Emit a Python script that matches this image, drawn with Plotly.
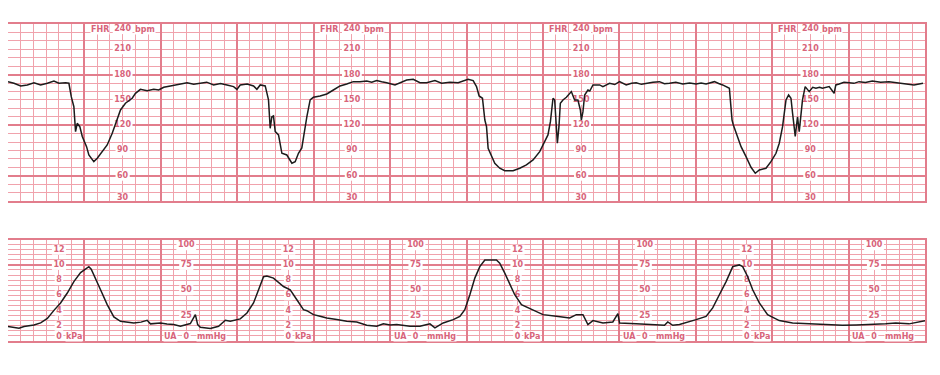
import plotly.graph_objects as go

# ---------------- data (time in minutes) ----------------
fhr_t = [0.0, 0.078, 0.166, 0.253, 0.340, 0.427, 0.515, 0.601, 0.666, 0.754, 0.797,
         0.828, 0.862, 0.884, 0.906, 0.940, 0.972, 1.028, 1.058, 1.123, 1.168, 1.233,
         1.298, 1.364, 1.407, 1.472, 1.537, 1.625, 1.668, 1.733, 1.821, 1.907, 1.972,
         2.038, 2.125, 2.256, 2.343, 2.430, 2.517, 2.600, 2.691, 2.780, 2.866, 2.952,
         2.996, 3.039, 3.130, 3.213, 3.257, 3.301, 3.366, 3.409, 3.431, 3.453, 3.474,
         3.497, 3.540, 3.584, 3.649, 3.715, 3.758, 3.801, 3.845, 3.866, 3.911, 3.954,
         3.997, 4.084, 4.172, 4.258, 4.345, 4.433, 4.519, 4.607, 4.694, 4.760, 4.825,
         4.890, 4.956, 5.064, 5.129, 5.217, 5.303, 5.391, 5.478, 5.587, 5.674, 5.782,
         5.891, 5.956, 6.021, 6.087, 6.131, 6.165, 6.209, 6.240, 6.262, 6.283, 6.327,
         6.370, 6.435, 6.501, 6.609, 6.697, 6.784, 6.871, 6.958, 7.023, 7.066, 7.098,
         7.132, 7.154, 7.176, 7.189, 7.210, 7.228, 7.262, 7.307, 7.372, 7.415, 7.458,
         7.490, 7.503, 7.524, 7.546, 7.589, 7.613, 7.655, 7.742, 7.785, 7.872, 7.940,
         8.003, 8.090, 8.160, 8.221, 8.290, 8.352, 8.440, 8.525, 8.590, 8.656, 8.740,
         8.830, 8.920, 9.005, 9.070, 9.135, 9.244, 9.300, 9.352, 9.440, 9.475, 9.492,
         9.548, 9.593, 9.658, 9.723, 9.779, 9.832, 9.919, 9.984, 10.050, 10.093,
         10.136, 10.181, 10.215, 10.246, 10.267, 10.302, 10.332, 10.354, 10.397,
         10.432, 10.485, 10.530, 10.572, 10.620, 10.658, 10.746, 10.811, 10.833,
         10.876, 10.940, 11.007, 11.070, 11.137, 11.220, 11.311, 11.420, 11.529,
         11.620, 11.703, 11.780, 11.856, 11.974]
fhr_bpm = [171.6, 169.7, 166.5, 167.7, 170.4, 167.7, 169.7, 172.4, 169.7, 170.4, 169.7,
           153.8, 141.9, 112.3, 122.2, 118.2, 106.6, 94.5, 84.6, 76.7, 80.7, 88.5,
           96.5, 110.4, 122.2, 138.0, 146.0, 151.9, 157.8, 162.5, 160.9, 162.5, 161.7,
           164.9, 166.5, 168.8, 170.4, 168.6, 169.7, 171.0, 167.7, 169.5, 167.7, 165.7,
           162.5, 167.7, 168.9, 166.5, 162.5, 167.7, 166.5, 149.9, 116.3, 130.0, 130.9,
           112.3, 108.4, 86.6, 84.6, 74.8, 76.7, 86.6, 93.0, 106.6, 130.0, 149.9,
           153.1, 154.6, 157.0, 161.7, 166.5, 168.8, 171.6, 171.6, 172.4, 170.8, 172.8,
           171.4, 170.4, 167.7, 170.4, 173.6, 174.4, 170.4, 170.4, 172.8, 169.7, 170.9,
           170.4, 172.8, 174.4, 172.8, 165.7, 154.6, 151.9, 126.1, 118.2, 92.6, 84.6,
           74.8, 68.9, 66.0, 66.0, 68.9, 72.8, 78.7, 88.5, 100.4, 108.4, 124.1,
           151.9, 149.9, 118.2, 98.5, 118.2, 145.9, 149.9, 153.1, 159.8, 149.9, 149.9,
           138.0, 126.1, 136.0, 155.8, 161.7, 160.5, 167.7, 167.7, 165.7, 169.7, 168.2,
           171.6, 167.7, 169.6, 170.4, 168.4, 169.7, 171.0, 171.6, 169.2, 169.7, 170.9,
           168.8, 170.1, 168.8, 169.9, 168.8, 171.6, 169.5, 167.7, 163.7, 126.1, 120.2,
           106.6, 94.5, 82.7, 70.0, 62.9, 66.8, 68.9, 76.7, 86.6, 98.5,
           118.2, 149.9, 155.8, 151.9, 134.1, 106.6, 130.0, 112.3, 149.9,
           165.7, 159.8, 164.8, 163.7, 165.0, 163.7, 165.7, 157.8, 167.7,
           168.8, 170.9, 170.4, 169.6, 171.6, 170.5, 172.4, 170.9, 171.6,
           170.2, 169.7, 168.6, 167.7, 169.7]

ua_t = [0.0, 0.078, 0.144, 0.209, 0.340, 0.427, 0.515, 0.601, 0.688, 0.776, 0.862,
        0.950, 1.015, 1.058, 1.089, 1.145, 1.211, 1.298, 1.385, 1.472, 1.560, 1.646,
        1.740, 1.821, 1.864, 1.994, 2.080, 2.168, 2.256, 2.386, 2.452, 2.482, 2.517,
        2.648, 2.756, 2.844, 2.909, 3.039, 3.127, 3.213, 3.279, 3.344, 3.388, 3.474,
        3.605, 3.693, 3.780, 3.866, 3.911, 3.997, 4.084, 4.171, 4.302, 4.433, 4.564,
        4.694, 4.825, 4.912, 5.000, 5.087, 5.260, 5.391, 5.521, 5.587, 5.695, 5.826,
        5.913, 5.978, 6.044, 6.109, 6.174, 6.240, 6.392, 6.435, 6.501, 6.566, 6.631,
        6.719, 6.871, 7.001, 7.176, 7.350, 7.437, 7.524, 7.589, 7.655, 7.785, 7.915,
        7.981, 8.003, 8.221, 8.438, 8.591, 8.634, 8.699, 8.787, 8.917, 9.005, 9.135,
        9.222, 9.309, 9.397, 9.484, 9.571, 9.614, 9.680, 9.745, 9.832, 9.940,
        10.093, 10.267, 10.485, 10.700, 10.920, 11.100, 11.268, 11.486, 11.617,
        11.791, 12.0]
ua_mmhg = [14.2, 13.6, 12.5, 14.2, 15.7, 17.9, 22.2, 30.2, 37.5, 47.3, 58.6,
           67.4, 70.8, 73.3, 70.8, 62.0, 50.5, 35.8, 23.7, 19.4, 18.5, 17.8,
           18.6, 20.4, 16.9, 17.8, 16.8, 16.2, 14.5, 17.2, 26.0, 16.2, 13.5,
           12.3, 14.5, 20.4, 19.4, 21.8, 27.6, 37.5, 50.5, 63.4, 64.1, 62.0,
           53.7, 50.5, 40.7, 30.9, 29.9, 26.0, 24.3, 22.7, 21.1, 19.4, 18.8,
           15.5, 14.5, 16.9, 15.8, 16.2, 14.5, 14.5, 16.9, 12.9, 17.8, 21.1,
           24.3, 30.9, 45.6, 62.0, 73.3, 79.9, 79.9, 76.7, 66.9, 55.4, 45.6,
           35.8, 30.9, 26.0, 24.3, 22.7, 26.0, 26.0, 16.2, 20.1, 17.8, 18.8,
           27.0, 17.8, 16.9, 16.2, 15.5, 18.8, 15.5, 16.2, 18.8, 21.1, 24.3,
           32.6, 45.6, 58.6, 73.3, 75.0, 73.3, 63.4, 50.5, 37.5, 26.0,
           20.1, 17.8, 16.9, 16.0, 15.5, 15.8, 16.2, 16.9, 17.8,
           16.9, 20.1]

fhr_ticks = [240, 210, 180, 150, 120, 90, 60, 30]
kpa_ticks = [12, 10, 8, 6, 4, 2, 0]
mmhg_ticks = [100, 75, 50, 25, 0]
fhr_cols = [1.5, 4.5, 7.5, 10.5]
kpa_cols = [0.667, 3.667, 6.667, 9.667]
mmhg_cols = [2.333, 5.333, 8.333, 11.333]

# ---------------- style ----------------
THIN = "#f0a2ac"
THICK = "#e27d8c"
LABEL = "#d8647a"
FONT = dict(family="DejaVu Sans, Verdana, sans-serif", size=8, color=LABEL)
PX_PER_MIN = 76.5      # horizontal scale of the plot area
PX_PER_BPM = 0.843     # vertical scale, FHR panel
PX_PER_MMHG = 1.015    # vertical scale, UA panel

fig = go.Figure()

# label positions (numbers placed on the scale columns)
fhr_lx, fhr_ly, fhr_lt = [], [], []
for c in fhr_cols:
    for v in fhr_ticks:
        fhr_lx.append(c)
        fhr_ly.append(234 if v == 240 else (34 if v == 30 else v))
        fhr_lt.append(str(v))
ua_lx, ua_ly, ua_lt = [], [], []
for c in kpa_cols:
    for v in kpa_ticks:
        ua_lx.append(c)
        ua_ly.append(4.4 if v == 0 else v * 7.5)
        ua_lt.append(str(v))
for c in mmhg_cols:
    for v in mmhg_ticks:
        ua_lx.append(c)
        ua_ly.append(94.5 if v == 100 else (4.4 if v == 0 else v))
        ua_lt.append(str(v))

# white boxes that cut the grid under each scale number
shapes = []
def box(x, y, n, xref, yref, pxu):
    hw = (n * 5.6 / 2 + 1.5) / PX_PER_MIN
    hh = 5.0 / pxu
    shapes.append(dict(type="rect", xref=xref, yref=yref, x0=x - hw, x1=x + hw,
                       y0=y - hh, y1=y + hh, fillcolor="white", line=dict(width=0),
                       layer="between"))
for x, y, t in zip(fhr_lx, fhr_ly, fhr_lt):
    box(x, y, len(t), "x", "y", PX_PER_BPM)
for x, y, t in zip(ua_lx, ua_ly, ua_lt):
    box(x, y, len(t), "x2", "y2", PX_PER_MMHG)

tfont = dict(family=FONT["family"], size=8, color=LABEL, weight="bold")
fig.add_trace(go.Scatter(x=fhr_lx, y=fhr_ly, text=fhr_lt, mode="text", textposition="middle center",
                         textfont=tfont, xaxis="x", yaxis="y", hoverinfo="skip", cliponaxis=False))
fig.add_trace(go.Scatter(x=ua_lx, y=ua_ly, text=ua_lt, mode="text", textposition="middle center",
                         textfont=tfont, xaxis="x2", yaxis="y2", hoverinfo="skip", cliponaxis=False))

fig.add_trace(go.Scatter(x=fhr_t, y=fhr_bpm, mode="lines", xaxis="x", yaxis="y",
                         line=dict(color="#1c1c1c", width=1.5), hoverinfo="skip"))
fig.add_trace(go.Scatter(x=ua_t, y=ua_mmhg, mode="lines", xaxis="x2", yaxis="y2",
                         line=dict(color="#1c1c1c", width=1.5), hoverinfo="skip"))

xcommon = dict(range=[0, 12], tick0=0, dtick=1, showgrid=True, gridcolor=THICK, gridwidth=1.5,
               minor=dict(tick0=0, dtick=1/6, showgrid=True, gridcolor=THIN, gridwidth=1),
               showticklabels=False, ticks="", zeroline=False, showline=True, mirror=True,
               linecolor=THICK, linewidth=1.5, fixedrange=True)

fig.update_layout(
    width=932, height=367,
    margin=dict(l=0, r=15, t=16, b=34),
    paper_bgcolor="white", plot_bgcolor="white", showlegend=False,
    xaxis=dict(anchor="y", **xcommon),
    xaxis2=dict(anchor="y2", **xcommon),
    yaxis=dict(domain=[0.4416, 1.0], range=[30, 240], tick0=0, dtick=60,
               showgrid=True, gridcolor=THICK, gridwidth=1.5,
               minor=dict(tick0=0, dtick=10, showgrid=True, gridcolor=THIN, gridwidth=1),
               showticklabels=False, ticks="", zeroline=False, showline=True, mirror=True,
               linecolor=THICK, linewidth=1.5, anchor="x"),
    yaxis2=dict(domain=[0.0, 0.320], range=[0, 100], tick0=0, dtick=75,
                showgrid=True, gridcolor=THICK, gridwidth=1.5,
                minor=dict(tick0=0, dtick=5, showgrid=True, gridcolor=THIN, gridwidth=1),
                showticklabels=False, ticks="", zeroline=False, showline=True, mirror=True,
                linecolor=THICK, linewidth=1.5, anchor="x2"),
    shapes=shapes,
)

# unit words beside the scale numbers
ann = []
def lab(x, y, text, xref, yref, xanchor, xshift):
    ann.append(dict(x=x, y=y, xref=xref, yref=yref, text="<b>%s</b>" % text, showarrow=False,
                    xanchor=xanchor, yanchor="middle", xshift=xshift,
                    font=FONT, bgcolor="white", borderpad=0))
for c in fhr_cols:
    lab(c, 234, "FHR", "x", "y", "right", -13)
    lab(c, 234, "bpm", "x", "y", "left", 11)
for c in kpa_cols:
    lab(c, 4.4, "kPa", "x2", "y2", "left", 6)
for c in mmhg_cols:
    lab(c, 4.4, "UA", "x2", "y2", "right", -8)
    lab(c, 4.4, "mmHg", "x2", "y2", "left", 10)

fig.update_layout(annotations=ann)
fig.write_html("out.html")
